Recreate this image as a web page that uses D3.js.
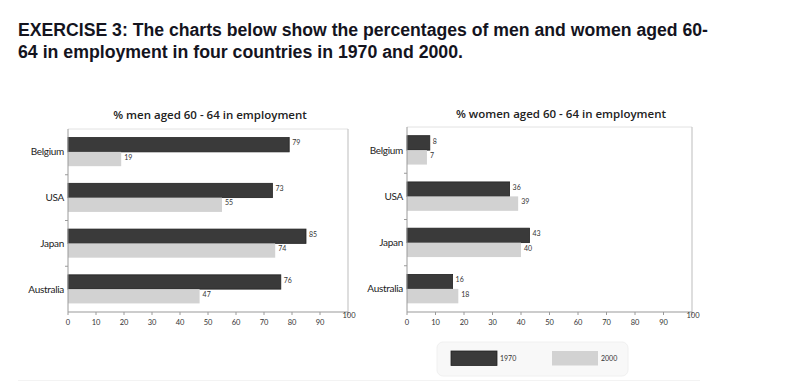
<!DOCTYPE html>
<html>
<head>
<meta charset="utf-8">
<script src="https://cdn.jsdelivr.net/npm/d3@7"></script>
<style>
  html, body { margin: 0; padding: 0; background: #fff; }
  svg { display: block; }
</style>
</head>
<body>
<svg id="chart" width="790" height="392"></svg>
<script>
const countries = ["Belgium", "USA", "Japan", "Australia"];
const years = ["1970", "2000"];
const men1970 = [79, 73, 85, 76];
const men2000 = [19, 55, 74, 47];
const women1970 = [8, 36, 43, 16];
const women2000 = [7, 39, 40, 18];
const xTickValues = [0, 10, 20, 30, 40, 50, 60, 70, 80, 90, 100];
const titleLines = [
  "EXERCISE 3: The charts below show the percentages of men and women aged 60-",
  "64 in employment in four countries in 1970 and 2000."
];
const panelTitles = ["% men aged 60 - 64 in employment", "% women aged 60 - 64 in employment"];

const svg = d3.select("#chart");
const colors = { "1970": "#3a3a3a", "2000": "#d2d2d2" };
const chartFont = "Lato, 'Open Sans', sans-serif";

// Heading
svg.append("text").attr("x", 18).attr("y", 36)
  .attr("font-family", "'Liberation Sans', Arial, sans-serif").attr("font-weight", "bold")
  .attr("font-size", 17.5).attr("fill", "#14141e")
  .attr("textLength", 690).attr("lengthAdjust", "spacingAndGlyphs")
  .text(titleLines[0]);
svg.append("text").attr("x", 18).attr("y", 58)
  .attr("font-family", "'Liberation Sans', Arial, sans-serif").attr("font-weight", "bold")
  .attr("font-size", 17.5).attr("fill", "#14141e")
  .attr("textLength", 445).attr("lengthAdjust", "spacingAndGlyphs")
  .text(titleLines[1]);

function drawPanel(cfg) {
  const g = svg.append("g");
  const x = d3.scaleLinear().domain([0, 100]).range([cfg.x0, cfg.x1]);
  const y = d3.scaleBand().domain(countries).range([cfg.top, cfg.bottom])
    .paddingInner(0.375).paddingOuter(0.1875);
  const ySub = d3.scaleBand().domain(years).range([0, y.bandwidth()]);

  // frame: top and right light borders
  g.append("line").attr("x1", cfg.x0).attr("x2", cfg.x1).attr("y1", cfg.top).attr("y2", cfg.top)
    .attr("stroke", "#e2e2e2").attr("stroke-width", 1);
  g.append("line").attr("x1", cfg.x1).attr("x2", cfg.x1).attr("y1", cfg.top).attr("y2", cfg.bottom)
    .attr("stroke", "#c8c8c8").attr("stroke-width", 1.2);

  // bars
  const data = countries.map((c, i) => ({ c, v: { "1970": cfg.s1970[i], "2000": cfg.s2000[i] } }));
  data.forEach(d => {
    years.forEach(yr => {
      const yy = y(d.c) + ySub(yr);
      g.append("rect")
        .attr("x", x(0)).attr("y", yy)
        .attr("width", x(d.v[yr]) - x(0)).attr("height", ySub.bandwidth())
        .attr("fill", colors[yr])
        .attr("stroke", yr === "1970" ? "#222" : "none").attr("stroke-width", 0.8);
      g.append("text")
        .attr("x", x(d.v[yr]) + 3).attr("y", yy + ySub.bandwidth() / 2)
        .attr("dy", "0.1em")
        .attr("font-family", chartFont).attr("font-size", 7).attr("fill", "#333")
        .text(d.v[yr]);
    });
  });

  // left axis
  g.append("line").attr("x1", cfg.x0).attr("x2", cfg.x0).attr("y1", cfg.top).attr("y2", cfg.bottom)
    .attr("stroke", "#9a9a9a").attr("stroke-width", 1);
  countries.forEach((c, i) => {
    if (i > 0) {
      const yb = y(c) - y.step() * y.paddingInner() / 2;
      g.append("line").attr("x1", cfg.x0 - 3).attr("x2", cfg.x0).attr("y1", yb).attr("y2", yb)
        .attr("stroke", "#9a9a9a");
    }
    g.append("text").attr("x", cfg.x0 - 4).attr("y", y(c) + y.bandwidth() / 2)
      .attr("dy", "0.35em").attr("text-anchor", "end")
      .attr("font-family", chartFont).attr("font-size", 10).attr("fill", "#222")
      .attr("letter-spacing", -0.3)
      .text(c);
  });

  // bottom axis
  g.append("line").attr("x1", cfg.x0).attr("x2", cfg.x1).attr("y1", cfg.bottom).attr("y2", cfg.bottom)
    .attr("stroke", "#9a9a9a").attr("stroke-width", 1.2);
  xTickValues.forEach(t => {
    g.append("line").attr("x1", x(t)).attr("x2", x(t)).attr("y1", cfg.bottom).attr("y2", cfg.bottom + 3)
      .attr("stroke", "#9a9a9a");
    const last = t === 100;
    g.append("text").attr("x", x(t) + (last ? 1 : 0)).attr("y", last ? cfg.bottom + 6 : cfg.bottom + 13)
      .attr("text-anchor", "middle")
      .attr("font-family", chartFont).attr("font-size", 7.5).attr("fill", "#333")
      .text(t);
  });

  // panel title
  g.append("text").attr("x", cfg.titleX).attr("y", cfg.titleY)
    .attr("text-anchor", "middle")
    .attr("font-family", "'Open Sans', Lato, sans-serif").attr("font-weight", 600)
    .attr("font-size", 11.5).attr("fill", "#222")
    .text(cfg.title);
}

drawPanel({ x0: 68, x1: 348, top: 129, bottom: 312, s1970: men1970, s2000: men2000,
  title: panelTitles[0], titleX: 210, titleY: 119 });
drawPanel({ x0: 407, x1: 692, top: 127, bottom: 312, s1970: women1970, s2000: women2000,
  title: panelTitles[1], titleX: 561, titleY: 118 });

// legend
const lg = svg.append("g");
lg.append("rect").attr("x", 437).attr("y", 342).attr("width", 191).attr("height", 34)
  .attr("rx", 6).attr("fill", "#f8f8f8").attr("stroke", "#f0f0f0");
const legX = d3.scalePoint().domain(years).range([451, 552]);
years.forEach(yr => {
  lg.append("rect").attr("x", legX(yr)).attr("y", 351).attr("width", 46).attr("height", 14.5)
    .attr("fill", colors[yr]).attr("stroke", yr === "1970" ? "#222" : "none").attr("stroke-width", 0.8);
  lg.append("text").attr("x", legX(yr) + 49).attr("y", 358.5).attr("dy", "0.35em")
    .attr("font-family", chartFont).attr("font-size", 7).attr("fill", "#333")
    .text(yr);
});

// faint bottom rule
svg.append("line").attr("x1", 18).attr("x2", 700).attr("y1", 380.5).attr("y2", 380.5)
  .attr("stroke", "#f3f3f3");
</script>
</body>
</html>
